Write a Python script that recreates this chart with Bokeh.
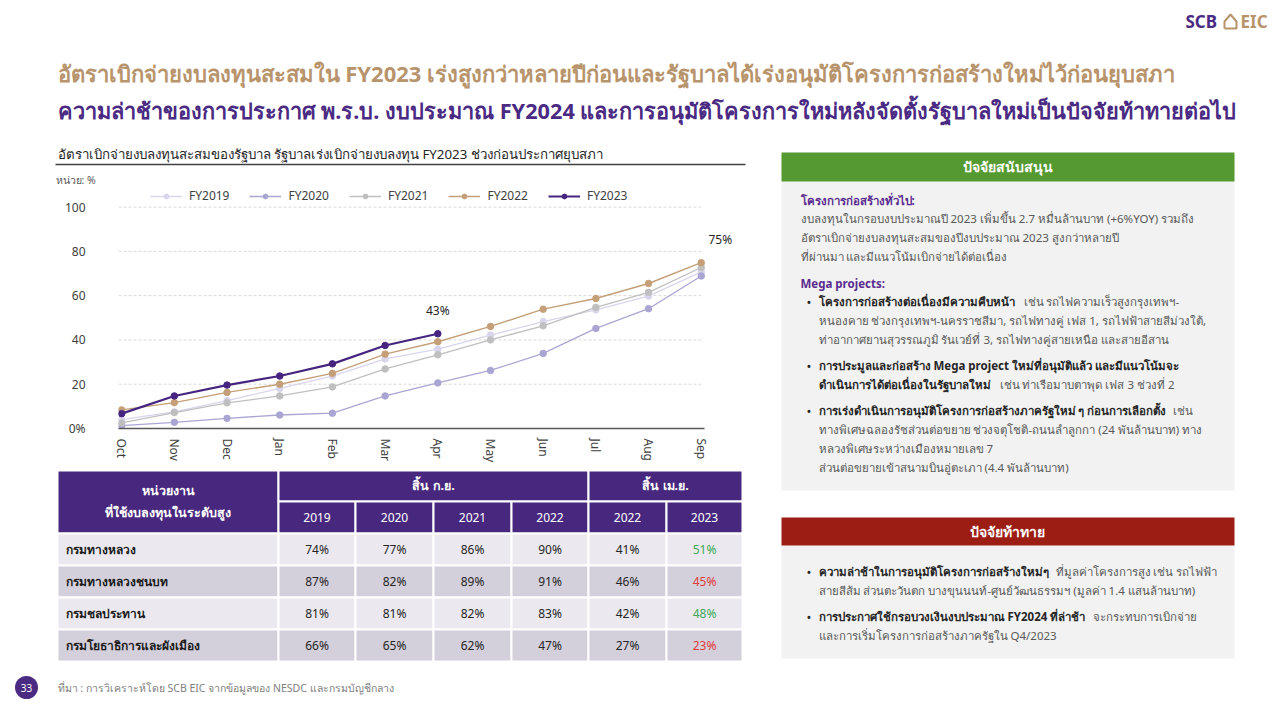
from bokeh.plotting import figure
from bokeh.models import Range1d, Legend, LegendItem, Label, FixedTicker
from bokeh.layouts import column, row
from bokeh.embed import file_html
from bokeh.resources import INLINE
from bokeh.core.properties import value

FONT = "Noto Sans"

# ---------------- data ----------------
months = ["Oct", "Nov", "Dec", "Jan", "Feb", "Mar", "Apr", "May", "Jun", "Jul", "Aug", "Sep"]
fy2019 = [4.0, 7.5, 12.6, 18.1, 23.7, 31.4, 35.8, 42.2, 48.3, 53.6, 59.8, 70.7]
fy2020 = [1.3, 2.8, 4.6, 6.1, 6.9, 14.7, 20.6, 26.2, 33.9, 45.2, 54.1, 68.9]
fy2021 = [2.5, 7.2, 11.6, 14.7, 18.8, 26.9, 33.3, 40.0, 46.4, 54.7, 61.5, 72.7]
fy2022 = [8.4, 11.7, 16.3, 20.0, 24.9, 33.6, 39.2, 46.1, 53.9, 58.7, 65.5, 74.9]
fy2023 = [6.7, 14.7, 19.6, 23.7, 29.2, 37.5, 42.8]
series_names = ["FY2019", "FY2020", "FY2021", "FY2022", "FY2023"]
y_ticks = [0, 20, 40, 60, 80, 100]

agencies = ["กรมทางหลวง", "กรมทางหลวงชนบท", "กรมชลประทาน", "กรมโยธาธิการและผังเมือง"]
sep_2019 = [74, 87, 81, 66]
sep_2020 = [77, 82, 81, 65]
sep_2021 = [86, 89, 82, 62]
sep_2022 = [90, 91, 83, 47]
apr_2022 = [41, 46, 42, 27]
apr_2023 = [51, 45, 48, 23]
table_years = ["2019", "2020", "2021", "2022", "2022", "2023"]
table_groups = ["สิ้น ก.ย.", "สิ้น เม.ย."]
table_head = ["หน่วยงาน", "ที่ใช้งบลงทุนในระดับสูง"]

title1 = "อัตราเบิกจ่ายงบลงทุนสะสมใน FY2023 เร่งสูงกว่าหลายปีก่อนและรัฐบาลได้เร่งอนุมัติโครงการก่อสร้างใหม่ไว้ก่อนยุบสภา"
title2 = "ความล่าช้าของการประกาศ พ.ร.บ. งบประมาณ FY2024 และการอนุมัติโครงการใหม่หลังจัดตั้งรัฐบาลใหม่เป็นปัจจัยท้าทายต่อไป"
subtitle = "อัตราเบิกจ่ายงบลงทุนสะสมของรัฐบาล รัฐบาลเร่งเบิกจ่ายงบลงทุน FY2023 ช่วงก่อนประกาศยุบสภา"
unit_text = "หน่วย: %"
source_text = "ที่มา : การวิเคราะห์โดย SCB EIC จากข้อมูลของ NESDC และกรมบัญชีกลาง"
page_no = "33"

PURPLE = "#4a2a82"
TAN = "#b8946c"
SERIES_COLORS = ["#d8d5ec", "#aaa6d3", "#bfbfbf", "#c49f78", "#45257f"]
SERIES_WIDTHS = [1.3, 1.3, 1.3, 1.4, 2.2]


def canvas(w, h):
    p = figure(width=w, height=h, x_range=Range1d(0, w), y_range=Range1d(h, 0),
               toolbar_location=None, output_backend="svg", min_border=0,
               x_axis_type=None, y_axis_type=None, frame_align=False)
    p.outline_line_color = None
    p.background_fill_color = "white"
    p.border_fill_color = "white"
    return p


def txt(p, x, y, s, size, color, bold=False, align="left", baseline="middle"):
    p.text(x=[x], y=[y], text=[s], text_font=value(FONT), text_font_size=f"{size}px",
           text_color=color, text_font_style="bold" if bold else "normal",
           text_align=align, text_baseline=baseline)


# ---------------- header (page y 0..140) ----------------
header = canvas(1280, 140)
txt(header, 57, 72, title1, 22, TAN, bold=True)
txt(header, 57, 110, title2, 21.7, PURPLE, bold=True)
txt(header, 1185, 21, "SCB", 17, PURPLE, bold=True)
header.line(x=[1224, 1224, 1230, 1236, 1236, 1224], y=[28, 21, 14, 21, 28, 28], line_color=TAN, line_width=2)
txt(header, 1240, 21, "EIC", 17, TAN, bold=True)

# ---------------- subtitle (page y 140..186) ----------------
sub = canvas(750, 46)
txt(sub, 57, 13, subtitle, 13.3, "#262626")
sub.line(x=[55, 745], y=[24, 24], line_color="#404040", line_width=1.5)
txt(sub, 55, 39, unit_text, 10.5, "#595959")

# ---------------- line chart (page y 186..465) ----------------
ch = figure(width=750, height=279, x_range=Range1d(-0.06, 11.65), y_range=Range1d(0, 109.3),
            toolbar_location=None, output_backend="svg", frame_align=False,
            min_border_left=118, min_border_right=15, min_border_top=0, min_border_bottom=33)
ch.outline_line_color = None
ch.background_fill_color = "white"
ch.border_fill_color = "white"

xs = list(range(len(months)))

# horizontal gridlines spanning the month axis only
ch.segment(x0=[-0.06] * len(y_ticks), x1=[xs[-1]] * len(y_ticks), y0=y_ticks, y1=y_ticks,
           line_color="#d9d9d9", line_width=1, line_dash="3 2")

all_series = [fy2019, fy2020, fy2021, fy2022, fy2023]
items = []
for name, ys, col, lw in zip(series_names, all_series, SERIES_COLORS, SERIES_WIDTHS):
    xx = xs[:len(ys)]
    r1 = ch.line(xx, ys, line_color=col, line_width=lw)
    r2 = ch.scatter(xx, ys, size=6.5, fill_color=col, line_color=col)
    items.append(LegendItem(label=name, renderers=[r1, r2]))

leg = Legend(items=items, orientation="horizontal", location=(32, 224),
             padding=0, margin=0, spacing=20, glyph_width=32, glyph_height=12,
             label_height=14, label_standoff=7, label_text_font=FONT,
             label_text_font_size="12px", label_text_color="#404040",
             border_line_color=None, background_fill_alpha=0)
ch.add_layout(leg)

ch.xaxis.ticker = FixedTicker(ticks=xs)
ch.xaxis.bounds = (-0.06, 11.06)
ch.xaxis.major_label_overrides = {i: m for i, m in enumerate(months)}
ch.xaxis.major_label_orientation = "vertical"
ch.xaxis.axis_line_color = "#595959"
ch.xaxis.axis_line_width = 1.5
ch.xaxis.major_tick_line_color = None
ch.xaxis.minor_tick_line_color = None
ch.xaxis.major_label_text_font = FONT
ch.xaxis.major_label_text_font_size = "12px"
ch.xaxis.major_label_text_color = "#404040"
ch.xaxis.major_label_standoff = 4

ch.yaxis.ticker = FixedTicker(ticks=y_ticks)
ch.yaxis.major_label_overrides = {0: "0%"}
ch.yaxis.axis_line_color = None
ch.yaxis.major_tick_line_color = None
ch.yaxis.minor_tick_line_color = None
ch.yaxis.major_label_text_font = FONT
ch.yaxis.major_label_text_font_size = "12px"
ch.yaxis.major_label_text_color = "#404040"
ch.yaxis.major_label_standoff = 27

ch.xgrid.grid_line_color = None
ch.ygrid.grid_line_color = None

ch.add_layout(Label(x=len(fy2023) - 1, y=fy2023[-1], text=f"{round(fy2023[-1])}%",
                    text_align="center", text_baseline="middle", y_offset=23,
                    text_font=FONT, text_font_size="12px", text_color="#262626"))
ch.add_layout(Label(x=len(fy2022) - 1, y=fy2022[-1], text=f"{round(fy2022[-1])}%",
                    text_align="center", text_baseline="middle", x_offset=19, y_offset=23,
                    text_font=FONT, text_font_size="12px", text_color="#262626"))

# ---------------- table (page y 465..665) ----------------
tbl = canvas(750, 200)
col_edges = [57, 278, 355, 433, 511, 588, 666, 742]
row_edges = [5, 36, 68, 100, 132, 164, 196]
HEAD = "#48287e"
ROWBG = ["#ebe9ef", "#d3cfdb"]

tbl.quad(left=[col_edges[0]], right=[col_edges[1]], top=[row_edges[0]], bottom=[row_edges[2]],
         fill_color=HEAD, line_color="white", line_width=2)
tbl.quad(left=[col_edges[1], col_edges[5]], right=[col_edges[5], col_edges[7]],
         top=[row_edges[0]] * 2, bottom=[row_edges[1]] * 2,
         fill_color=HEAD, line_color="white", line_width=2)
tbl.quad(left=col_edges[1:7], right=col_edges[2:8], top=[row_edges[1]] * 6, bottom=[row_edges[2]] * 6,
         fill_color=HEAD, line_color="white", line_width=2)
hx = (col_edges[0] + col_edges[1]) / 2
txt(tbl, hx, 25, table_head[0], 12.5, "white", bold=True, align="center")
txt(tbl, hx, 47, table_head[1], 12.5, "white", bold=True, align="center")
txt(tbl, (col_edges[1] + col_edges[5]) / 2, 20, table_groups[0], 12.5, "white", bold=True, align="center")
txt(tbl, (col_edges[5] + col_edges[7]) / 2, 20, table_groups[1], 12.5, "white", bold=True, align="center")
for i, yr in enumerate(table_years):
    txt(tbl, (col_edges[i + 1] + col_edges[i + 2]) / 2, 52, yr, 12, "white", align="center")

cols = [sep_2019, sep_2020, sep_2021, sep_2022, apr_2022, apr_2023]
for r, name in enumerate(agencies):
    top, bot = row_edges[r + 2], row_edges[r + 3]
    bg = ROWBG[r % 2]
    tbl.quad(left=col_edges[:7], right=col_edges[1:8], top=[top] * 7, bottom=[bot] * 7,
             fill_color=bg, line_color="white", line_width=2)
    yc = (top + bot) / 2
    txt(tbl, col_edges[0] + 8, yc, name, 12, "#1a1a1a", bold=True)
    for c, vals in enumerate(cols):
        color = "#262626"
        if c == 5:
            color = "#3fa85a" if apr_2023[r] > apr_2022[r] else "#e03a3a"
        txt(tbl, (col_edges[c + 1] + col_edges[c + 2]) / 2, yc, f"{vals[r]}%", 12, color, align="center")

# ---------------- right panel (page x 750.., y 140..665) ----------------
rp = canvas(529, 525)
GREEN = "#559a30"
RED = "#9b1d14"
BOX = "#f2f2f2"
BODY = "#595959"
rp.quad(left=[31], right=[484], top=[41], bottom=[350], fill_color=BOX, line_color=None)
rp.quad(left=[31], right=[484], top=[12], bottom=[41], fill_color=GREEN, line_color=None)
rp.quad(left=[31], right=[484], top=[405], bottom=[518], fill_color=BOX, line_color=None)
rp.quad(left=[31], right=[484], top=[377], bottom=[405], fill_color=RED, line_color=None)
txt(rp, 257, 26, "ปัจจัยสนับสนุน", 14, "white", bold=True, align="center")
txt(rp, 257, 391, "ปัจจัยท้าทาย", 14, "white", bold=True, align="center")

FS = 11.5
txt(rp, 50, 60, "โครงการก่อสร้างทั่วไป:", FS, "#5b2c8f", bold=True)
txt(rp, 50, 78, "งบลงทุนในกรอบงบประมาณปี 2023 เพิ่มขึ้น 2.7 หมื่นล้านบาท (+6%YOY) รวมถึง", FS, BODY)
txt(rp, 50, 97, "อัตราเบิกจ่ายงบลงทุนสะสมของปีงบประมาณ 2023 สูงกว่าหลายปี", FS, BODY)
txt(rp, 50, 116, "ที่ผ่านมา และมีแนวโน้มเบิกจ่ายได้ต่อเนื่อง", FS, BODY)
txt(rp, 50, 143, "Mega projects:", FS, "#5b2c8f", bold=True)

BX, TX = 56, 68
DARK = "#262626"
bullets = [
    (161, [("โครงการก่อสร้างต่อเนื่องมีความคืบหน้า", "เช่น รถไฟความเร็วสูงกรุงเทพฯ-", 273),
           (None, "หนองคาย ช่วงกรุงเทพฯ-นครราชสีมา, รถไฟทางคู่ เฟส 1, รถไฟฟ้าสายสีม่วงใต้,", TX),
           (None, "ท่าอากาศยานสุวรรณภูมิ รันเวย์ที่ 3, รถไฟทางคู่สายเหนือ และสายอีสาน", TX)]),
    (225, [("การประมูลและก่อสร้าง Mega project ใหม่ที่อนุมัติแล้ว และมีแนวโน้มจะ", None, 0),
           ("ดำเนินการได้ต่อเนื่องในรัฐบาลใหม่", "เช่น ท่าเรือมาบตาพุด เฟส 3 ช่วงที่ 2", 249)]),
    (270, [("การเร่งดำเนินการอนุมัติโครงการก่อสร้างภาครัฐใหม่ ๆ ก่อนการเลือกตั้ง", "เช่น", 422),
           (None, "ทางพิเศษฉลองรัชส่วนต่อขยาย ช่วงจตุโชติ-ถนนลำลูกกา (24 พันล้านบาท) ทาง", TX),
           (None, "หลวงพิเศษระหว่างเมืองหมายเลข 7", TX),
           (None, "ส่วนต่อขยายเข้าสนามบินอู่ตะเภา (4.4 พันล้านบาท)", TX)]),
    (431, [("ความล่าช้าในการอนุมัติโครงการก่อสร้างใหม่ๆ", "ที่มูลค่าโครงการสูง เช่น รถไฟฟ้า", 305),
           (None, "สายสีส้ม ส่วนตะวันตก บางขุนนนท์-ศูนย์วัฒนธรรมฯ (มูลค่า 1.4 แสนล้านบาท)", TX)]),
    (476, [("การประกาศใช้กรอบวงเงินงบประมาณ FY2024 ที่ล่าช้า", "จะกระทบการเบิกจ่าย", 342),
           (None, "และการเริ่มโครงการก่อสร้างภาครัฐใน Q4/2023", TX)]),
]
for y0, lines in bullets:
    txt(rp, BX, y0, "•", 13, DARK)
    for k, (bold_s, norm_s, nx) in enumerate(lines):
        yy = y0 + k * 19
        if bold_s:
            txt(rp, TX, yy, bold_s, FS, DARK, bold=True)
        if norm_s:
            txt(rp, nx, yy, norm_s, FS, BODY)

# ---------------- footer (page y 665..711) ----------------
foot = canvas(1279, 46)
foot.scatter(x=[26], y=[22], size=23, fill_color=PURPLE, line_color=None)
txt(foot, 26, 22, page_no, 10, "white", align="center")
txt(foot, 57, 22, source_text, 10.5, "#7f7f7f")

left = column(sub, ch, tbl, spacing=0)
mid = row(left, rp, spacing=0)
page = column(header, mid, foot, spacing=0)

open("out.html", "w").write(file_html(page, INLINE))
